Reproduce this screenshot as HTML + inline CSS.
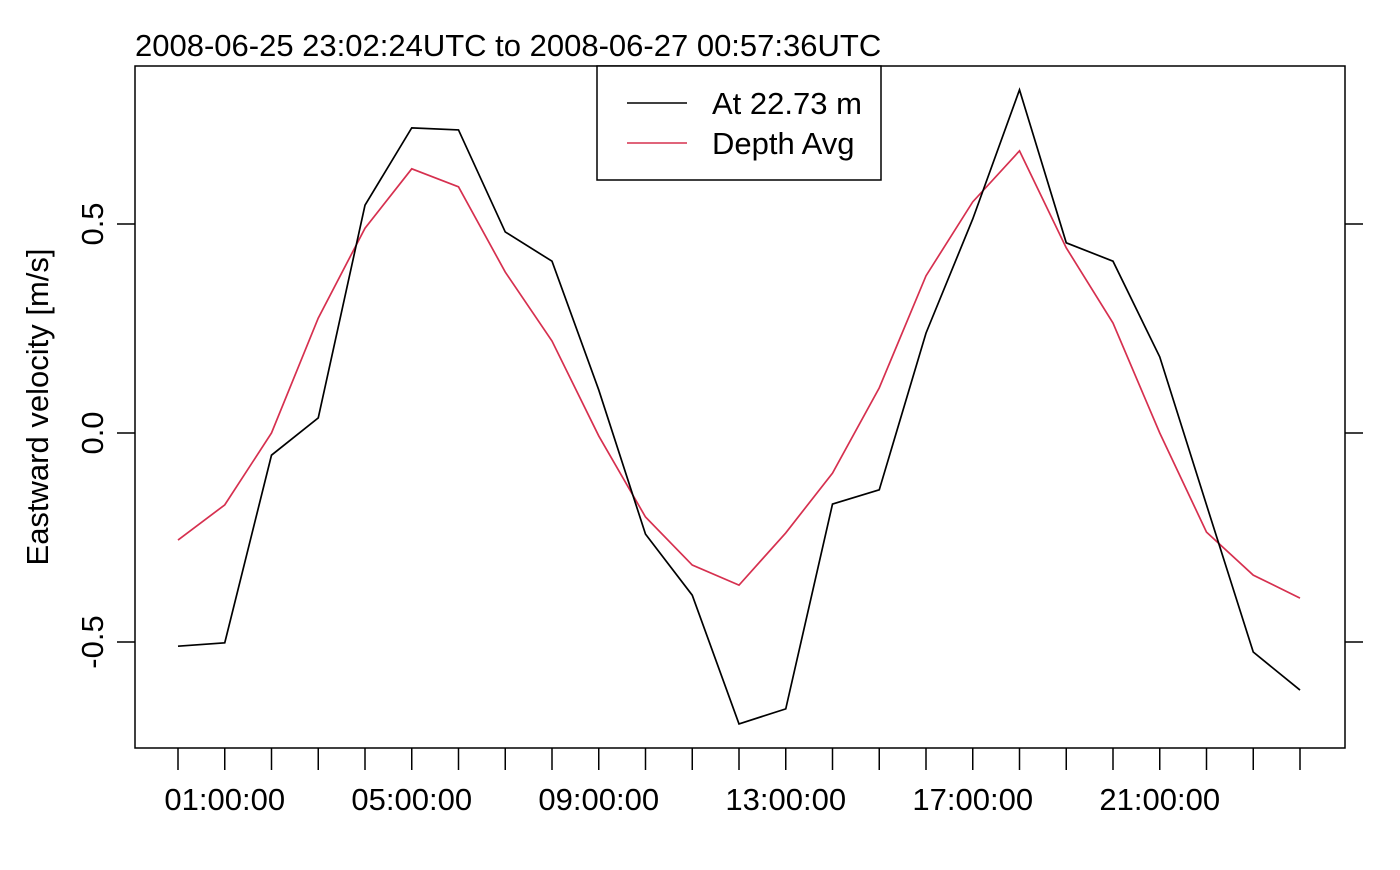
<!DOCTYPE html>
<html><head><meta charset="utf-8"><style>
body{margin:0;background:#fff}
svg text{font-family:"Liberation Sans",Arial,sans-serif;fill:#000}
</style></head><body>
<svg id="c" width="1400" height="865">
<text x="135" y="56" font-size="31">2008-06-25 23:02:24UTC to 2008-06-27 00:57:36UTC</text>
<rect x="135" y="66" width="1210" height="682" fill="none" stroke="#000" stroke-width="1.5"/>
<text transform="translate(48,407) rotate(-90)" text-anchor="middle" font-size="31">Eastward velocity [m/s]</text>
<g id="axes"></g>
<g id="series"></g>
<g>
<rect x="597" y="66" width="284" height="114" fill="#fff" stroke="#000" stroke-width="1.5"/>
<line x1="627" y1="103" x2="687" y2="103" stroke="#000" stroke-width="1.5"/>
<text x="712" y="114" font-size="31">At 22.73 m</text>
<line x1="627" y1="143" x2="687" y2="143" stroke="#d6304f" stroke-width="1.5"/>
<text x="712" y="154" font-size="31">Depth Avg</text>
</g>
</svg>
<script>
const hours=[0,1,2,3,4,5,6,7,8,9,10,11,12,13,14,15,16,17,18,19,20,21,22,23,24];
const atDepth=[-0.510,-0.502,-0.053,0.036,0.545,0.730,0.725,0.481,0.411,0.103,-0.242,-0.388,-0.696,-0.660,-0.170,-0.136,0.239,0.512,0.821,0.455,0.411,0.182,-0.172,-0.524,-0.615];
const depthAvg=[-0.256,-0.172,0.0,0.275,0.490,0.632,0.589,0.385,0.220,-0.007,-0.201,-0.316,-0.364,-0.239,-0.096,0.108,0.376,0.553,0.675,0.443,0.263,0.0,-0.237,-0.340,-0.395];
const yTicks=[-0.5,0.0,0.5];
const yTickLabels=["-0.5","0.0","0.5"];
const xLabelHours=[1,5,9,13,17,21];
const xLabels=["01:00:00","05:00:00","09:00:00","13:00:00","17:00:00","21:00:00"];
const NS="http://www.w3.org/2000/svg";
const xs=h=>178+h*46.75;
const ys=v=>433-v*418;
const ax=document.getElementById('axes'),se=document.getElementById('series');
function mk(t,a,p){const e=document.createElementNS(NS,t);for(const k in a)e.setAttribute(k,a[k]);p.appendChild(e);return e;}
hours.forEach(h=>{
  const l=mk('line',{x1:xs(h),x2:xs(h),y1:748,y2:770,stroke:'#000','stroke-width':1.5},ax);
  
  
});
xLabelHours.forEach((h,i)=>{
  const t=mk('text',{x:xs(h),y:810,'text-anchor':'middle','font-size':31},ax);t.textContent=xLabels[i];
  
  
});
yTicks.forEach((v,i)=>{
  const l=mk('line',{x1:117,x2:135,y1:ys(v),y2:ys(v),stroke:'#000','stroke-width':1.5},ax);
  
  
  const r=mk('line',{x1:1345,x2:1363,y1:ys(v),y2:ys(v),stroke:'#000','stroke-width':1.5},ax);
  
  
  const t=mk('text',{'text-anchor':'middle','font-size':31,transform:`translate(103,${ys(v)}) rotate(-90)`},ax);t.textContent=yTickLabels[i];
  
  
});
function line(vals,col,name){
  const p=mk('polyline',{points:vals.map((v,i)=>xs(hours[i])+','+ys(v)).join(' '),fill:'none',stroke:col,'stroke-width':1.7},se);
  
  
}
line(depthAvg,'#d6304f','depth-avg-line');
line(atDepth,'#000','at-22.73m-line');
</script>
</body></html>
